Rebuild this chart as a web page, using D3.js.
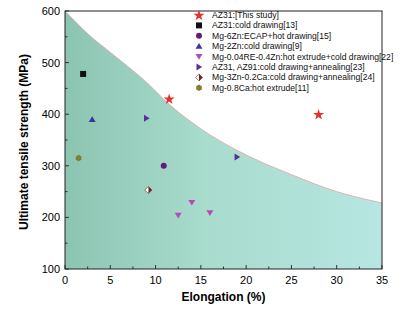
<!DOCTYPE html>
<html><head><meta charset="utf-8">
<script src="https://cdn.jsdelivr.net/npm/d3@7"></script>
<style>body{margin:0;background:#fff}svg{display:block}text{font-family:"Liberation Sans",Arial,sans-serif}</style>
</head><body><svg id="c" width="401" height="321"></svg>
<script>
// boundary curve
const boundaryX = [0, 2.7, 5, 9.3, 11.2, 14.9, 19, 25, 30, 35];
const boundaryY = [600, 553, 520, 457, 424, 373, 330, 283, 250, 228];

const legendLabels = [
  "AZ31:[This study]",
  "AZ31:cold drawing[13]",
  "Mg-6Zn:ECAP+hot drawing[15]",
  "Mg-2Zn:cold drawing[9]",
  "Mg-0.04RE-0.4Zn:hot extrude+cold drawing[22]",
  "AZ31, AZ91:cold drawing+annealing[23]",
  "Mg-3Zn-0.2Ca:cold drawing+annealing[24]",
  "Mg-0.8Ca:hot extrude[11]"
];
const seriesX = [[11.5, 28], [2], [10.9], [3], [12.5, 14, 16], [9, 19], [9.2], [1.5]];
const seriesY = [[430, 400], [478], [300], [390], [204, 229, 209], [392, 317], [253], [315]];
const xTicks = [0, 5, 10, 15, 20, 25, 30, 35];
const yTicks = [100, 200, 300, 400, 500, 600];

const styles = [
  {type: "star", color: "#e8302c", size: 6},
  {type: "square", color: "#111111", size: 6},
  {type: "circle", color: "#6a1a6c", size: 6},
  {type: "up", color: "#3a35a0", size: 7},
  {type: "down", color: "#b04eb4", size: 7},
  {type: "right", color: "#5b2c9c", size: 7},
  {type: "half", color: "#7a1c1c", size: 7},
  {type: "hex", color: "#857f2c", size: 6.5}
];

const svg = d3.select("#c");
const L = 65, R = 382, T = 11, B = 269;
const x = d3.scaleLinear().domain([0, 35]).range([L, R]);
const y = d3.scaleLinear().domain([100, 600]).range([B, T]);

const defs = svg.append("defs");
const g = defs.append("linearGradient").attr("id", "fillg").attr("x1", "0").attr("x2", "1").attr("y1", "0").attr("y2", "0");
g.append("stop").attr("offset", "0").attr("stop-color", "#8cc4b2");
g.append("stop").attr("offset", "0.45").attr("stop-color", "#a8dccd");
g.append("stop").attr("offset", "1").attr("stop-color", "#b7e6e2");

const pts = boundaryX.map((v, i) => [v, boundaryY[i]]);
const area = d3.area().x(d => x(d[0])).y0(B).y1(d => y(d[1])).curve(d3.curveMonotoneX);
svg.append("path").attr("d", area(pts)).attr("fill", "url(#fillg)");
const line = d3.line().x(d => x(d[0])).y(d => y(d[1])).curve(d3.curveMonotoneX);
svg.append("path").attr("d", line(pts)).attr("fill", "none").attr("stroke", "#e4a7a7").attr("stroke-width", 0.8);

// axes ticks (inside)
const xMinor = d3.range(2.5, 35, 5);
const yMinor = d3.range(150, 600, 100);
const ax = svg.append("g").attr("stroke", "#333").attr("stroke-width", 1);
xTicks.forEach(v => ax.append("line").attr("x1", x(v)).attr("x2", x(v)).attr("y1", B).attr("y2", B - 4));
xMinor.forEach(v => ax.append("line").attr("x1", x(v)).attr("x2", x(v)).attr("y1", B).attr("y2", B - 2.5));
yTicks.forEach(v => ax.append("line").attr("x1", L).attr("x2", L + 4).attr("y1", y(v)).attr("y2", y(v)));
yMinor.forEach(v => ax.append("line").attr("x1", L).attr("x2", L + 2.5).attr("y1", y(v)).attr("y2", y(v)));
svg.append("rect").attr("x", L).attr("y", T).attr("width", R - L).attr("height", B - T)
  .attr("fill", "none").attr("stroke", "#222").attr("stroke-width", 1);

svg.selectAll(".xt").data(xTicks).enter().append("text")
  .attr("x", d => x(d)).attr("y", B + 15).attr("text-anchor", "middle")
  .attr("font-size", 11).text(d => d);
svg.selectAll(".yt").data(yTicks).enter().append("text")
  .attr("x", L - 5).attr("y", d => y(d) + 4).attr("text-anchor", "end")
  .attr("font-size", 11).text(d => d);

svg.append("text").attr("x", (L + R) / 2).attr("y", B + 32).attr("text-anchor", "middle")
  .attr("font-size", 12).attr("font-weight", "bold").text("Elongation (%)");
svg.append("text").attr("transform", `translate(28,${(T + B) / 2 + 2}) rotate(-90)`)
  .attr("text-anchor", "middle").attr("font-size", 12).attr("font-weight", "bold")
  .text("Ultimate tensile strength (MPa)");

function drawMarker(sel, st, cx, cy) {
  const s = st.size, c = st.color;
  if (st.type === "star") {
    sel.append("path").attr("d", d3.symbol(d3.symbolStar, 38)())
      .attr("transform", `translate(${cx},${cy + 0.5})`).attr("fill", c);
  } else if (st.type === "square") {
    sel.append("rect").attr("x", cx - s / 2).attr("y", cy - s / 2).attr("width", s).attr("height", s).attr("fill", c);
  } else if (st.type === "circle") {
    sel.append("circle").attr("cx", cx).attr("cy", cy).attr("r", s / 2).attr("fill", c);
  } else if (st.type === "up" || st.type === "down" || st.type === "right") {
    const h = s * 0.45;
    let p;
    if (st.type === "up") p = [[cx, cy - h], [cx + h * 1.1, cy + h * 0.8], [cx - h * 1.1, cy + h * 0.8]];
    else if (st.type === "down") p = [[cx, cy + h], [cx + h * 1.1, cy - h * 0.8], [cx - h * 1.1, cy - h * 0.8]];
    else p = [[cx + h, cy], [cx - h * 0.8, cy - h * 1.1], [cx - h * 0.8, cy + h * 1.1]];
    sel.append("path").attr("d", "M" + p.join("L") + "Z").attr("fill", c);
  } else if (st.type === "half") {
    const h = s / 2;
    sel.append("path").attr("d", `M${cx},${cy - h}L${cx + h},${cy}L${cx},${cy + h}Z`).attr("fill", c);
    sel.append("path").attr("d", `M${cx},${cy - h}L${cx - h},${cy}L${cx},${cy + h}Z`).attr("fill", "#fff");
    sel.append("path").attr("d", `M${cx},${cy - h}L${cx + h},${cy}L${cx},${cy + h}L${cx - h},${cy}Z`)
      .attr("fill", "none").attr("stroke", "#5a2020").attr("stroke-width", 0.6);
  } else if (st.type === "hex") {
    const r = s / 2;
    const p = d3.range(6).map(i => [cx + r * Math.cos(Math.PI / 3 * i + Math.PI / 6), cy + r * Math.sin(Math.PI / 3 * i + Math.PI / 6)]);
    sel.append("path").attr("d", "M" + p.join("L") + "Z").attr("fill", c);
  }
}

const mk = svg.append("g");
seriesX.forEach((xs, i) => xs.forEach((xv, j) => drawMarker(mk, styles[i], x(xv), y(seriesY[i][j]))));

const lg = svg.append("g");
legendLabels.forEach((lab, i) => {
  const ly = 15 + i * 10.4;
  drawMarker(lg, styles[i], 199, ly);
  lg.append("text").attr("x", 212).attr("y", ly + 3).attr("font-size", 8.6).attr("fill", "#111").text(lab);
});
</script></body></html>
